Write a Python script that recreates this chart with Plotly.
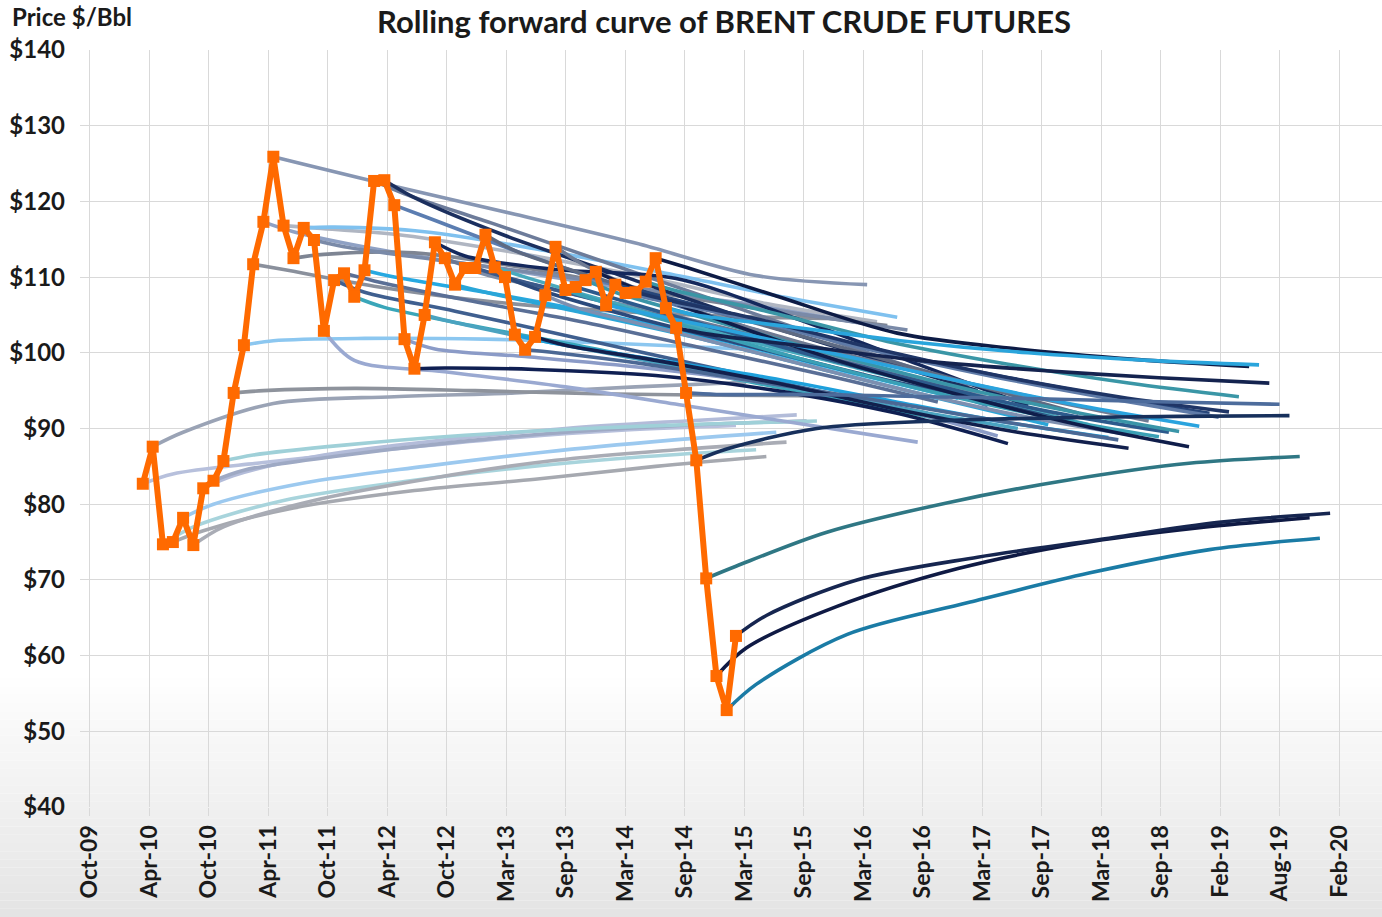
import pandas as pd
import plotly.graph_objects as go

# Month-end Brent front-month settlement, Mar-2010 .. Feb-2015
spot_first = pd.Timestamp("2010-03-31")
spot_price = [82.7, 87.6, 74.7, 75.0, 78.2, 74.6, 82.1, 83.1, 85.7, 94.7,
              101.0, 111.7, 117.3, 125.9, 116.8, 112.5, 116.5, 114.9, 102.9, 109.6,
              110.5, 107.4, 110.9, 122.7, 122.8, 119.5, 101.8, 97.9, 105.0, 114.6,
              112.5, 109.0, 111.2, 111.2, 115.6, 111.3, 110.0, 102.4, 100.4, 102.1,
              107.6, 114.0, 108.3, 108.7, 109.6, 110.7, 106.3, 109.0, 107.9, 108.0,
              109.4, 112.5, 105.9, 103.3, 94.7, 85.8, 70.2, 57.3, 52.8, 62.6]

# Each forward curve is sampled at these contract offsets (months after its trade month)
curve_offsets = [0, 3, 12, 24, 36, 48, 59]

# One forward curve per trade month, same order as spot_price
curve_values = [
    [82.7, 84.0, 85.5, 87.2, 88.7, 89.8, 90.4],
    [87.6, 89.5, 93.3, 94.2, 94.7, 95.5, 96.1],
    [74.7, 77.0, 80.5, 83.0, 84.9, 86.3, 87.2],
    [75.0, 76.5, 79.5, 81.8, 83.3, 85.0, 86.3],
    [78.2, 80.0, 82.8, 85.0, 86.9, 88.4, 89.5],
    [74.6, 77.0, 80.5, 83.5, 85.8, 87.2, 88.2],
    [82.1, 83.8, 86.5, 88.5, 90.0, 91.0, 91.8],
    [83.1, 84.5, 86.3, 88.2, 89.6, 90.5, 91.0],
    [85.7, 86.5, 87.8, 89.1, 90.0, 90.6, 91.0],
    [94.7, 95.0, 95.3, 95.0, 94.6, 94.4, 94.3],
    [101.0, 101.6, 101.9, 101.8, 101.3, 100.6, 100.1],
    [111.7, 111.0, 108.8, 106.7, 105.5, 104.8, 104.5],
    [117.3, 116.0, 113.5, 111.0, 108.5, 106.5, 104.0],
    [125.9, 124.9, 122.0, 118.3, 114.5, 110.2, 109.0],
    [116.8, 116.5, 115.5, 113.0, 110.0, 106.5, 104.1],
    [112.5, 113.0, 113.2, 111.0, 108.0, 105.5, 103.6],
    [116.5, 116.6, 116.0, 113.5, 110.5, 107.3, 104.7],
    [114.9, 114.0, 112.3, 110.2, 107.8, 105.2, 103.0],
    [102.9, 99.0, 97.5, 95.5, 93.0, 90.5, 88.2],
    [109.6, 108.0, 105.5, 102.0, 98.5, 95.0, 92.0],
    [110.5, 109.5, 107.0, 104.0, 100.5, 97.0, 93.5],
    [107.4, 106.0, 103.5, 100.5, 97.0, 94.0, 91.0],
    [110.9, 110.0, 108.0, 105.0, 101.5, 97.5, 94.0],
    [122.7, 121.0, 117.0, 111.5, 106.0, 100.5, 95.5],
    [122.8, 120.5, 115.5, 110.0, 104.5, 99.5, 95.0],
    [119.5, 118.0, 113.5, 108.0, 103.0, 98.0, 93.0],
    [101.8, 100.5, 99.5, 98.0, 96.0, 93.0, 89.0],
    [97.9, 98.0, 97.8, 97.0, 95.0, 92.0, 88.0],
    [105.0, 104.0, 101.5, 98.5, 95.5, 92.5, 90.0],
    [114.6, 112.8, 111.0, 109.8, 104.5, 98.5, 93.0],
    [112.5, 111.0, 108.0, 104.5, 100.5, 96.0, 92.0],
    [109.0, 108.0, 105.5, 102.0, 98.0, 94.0, 90.5],
    [111.2, 110.0, 107.5, 103.5, 99.5, 95.5, 91.5],
    [111.2, 110.0, 107.0, 103.0, 99.0, 95.0, 91.0],
    [115.6, 113.5, 109.5, 105.0, 100.5, 96.0, 92.0],
    [111.3, 110.0, 106.5, 102.0, 98.0, 94.0, 90.5],
    [110.0, 108.5, 105.0, 101.0, 97.0, 93.5, 90.0],
    [102.4, 101.5, 99.5, 97.0, 94.0, 91.0, 88.8],
    [100.4, 100.0, 98.5, 96.0, 93.5, 90.8, 88.5],
    [102.1, 101.0, 99.0, 96.0, 92.5, 89.5, 87.4],
    [107.6, 106.0, 103.0, 99.0, 95.0, 91.5, 89.0],
    [114.0, 111.5, 106.5, 101.5, 97.5, 94.0, 91.0],
    [108.3, 107.0, 103.5, 99.0, 95.0, 91.5, 88.9],
    [108.7, 107.5, 104.0, 99.5, 95.5, 92.0, 89.5],
    [109.6, 108.0, 104.5, 100.0, 95.8, 92.3, 89.6],
    [110.7, 109.0, 104.5, 99.0, 94.5, 90.5, 87.6],
    [106.3, 105.5, 103.0, 99.5, 96.0, 92.8, 90.3],
    [109.0, 108.0, 105.0, 101.0, 97.5, 94.5, 92.0],
    [107.9, 107.0, 104.5, 100.5, 97.0, 94.0, 91.5],
    [108.0, 107.0, 104.5, 100.5, 97.0, 94.2, 92.2],
    [109.4, 108.2, 105.5, 101.5, 98.5, 96.0, 94.2],
    [112.5, 111.3, 107.5, 102.6, 100.5, 99.1, 98.2],
    [105.9, 105.0, 103.5, 101.5, 100.0, 99.0, 98.4],
    [103.3, 102.5, 101.0, 99.0, 97.7, 96.7, 96.0],
    [94.7, 94.5, 94.5, 94.2, 93.9, 93.5, 93.2],
    [85.8, 87.3, 90.0, 91.0, 91.4, 91.6, 91.7],
    [70.2, 71.8, 76.3, 80.2, 83.2, 85.4, 86.3],
    [57.3, 61.0, 66.5, 71.5, 74.8, 76.9, 78.2],
    [52.8, 56.2, 62.8, 67.0, 70.9, 74.0, 75.5],
    [62.6, 65.3, 70.0, 73.0, 75.3, 77.6, 78.8],
]

curve_colors = [
    "#b7c0dc", "#9aa3b5", "#a8d4dc", "#a6a9b0", "#9cc9ef", "#a9acb5", "#b3bcd9", "#9ea9c4",
    "#9fd0d8", "#8e939c", "#8cc7f0", "#8a909c", "#8fa1c4", "#8796b3", "#b0b6c2", "#7e8593",
    "#7fc1ef", "#7a8aa8", "#9aa9d1", "#3f5f8f", "#5a6f96", "#3aa6b9", "#27a9e1", "#6d7c9a",
    "#1b2f5e", "#5b7db1", "#8b9bc7", "#0f1f52", "#4aa3c0", "#14285c", "#6b7894", "#2aa6d8",
    "#7f8da6", "#3b5a8a", "#5e6a82", "#48a9bd", "#2b4a7c", "#1ea0dc", "#4b6894", "#12204d",
    "#7d8fb0", "#6f7b93", "#3aa0b5", "#2c5a8c", "#3a95a8", "#0f1d4a", "#2aa3de", "#27467a",
    "#5f7ba8", "#1f3566", "#3a96a6", "#0d1b45", "#2aa5dc", "#14234f", "#4d6c9c", "#17305c",
    "#2f7784", "#0f1a44", "#1a7ba5", "#162650",
]

tick_labels = ["Oct-09", "Apr-10", "Oct-10", "Apr-11", "Oct-11", "Apr-12", "Oct-12",
               "Mar-13", "Sep-13", "Mar-14", "Sep-14", "Mar-15", "Sep-15", "Mar-16",
               "Sep-16", "Mar-17", "Sep-17", "Mar-18", "Sep-18", "Feb-19", "Aug-19",
               "Feb-20"]
price_ticks = [40, 50, 60, 70, 80, 90, 100, 110, 120, 130, 140]

spot_dates = [spot_first + pd.offsets.MonthEnd(i) for i in range(len(spot_price))]

# Date axis ticks every 180 days
tick0 = pd.Timestamp("2009-10-22")
tick_dates = [tick0 + pd.Timedelta(days=180 * k) for k in range(len(tick_labels))]
x_range = [tick0 - pd.Timedelta(days=30), tick0 + pd.Timedelta(days=3910)]

FONT = "Lato"
TEXT = "#1a1a1a"

fig = go.Figure()

for start, vals, col in zip(spot_dates, curve_values, curve_colors):
    xs = [start + pd.offsets.MonthEnd(o) for o in curve_offsets]
    fig.add_trace(go.Scatter(
        x=xs, y=vals, mode="lines",
        line=dict(color=col, width=3.6, shape="spline", smoothing=0.9),
        hoverinfo="skip",
    ))

fig.add_trace(go.Scatter(
    x=spot_dates, y=spot_price, mode="lines+markers",
    line=dict(color="#ff6a00", width=6),
    marker=dict(symbol="square", size=12, color="#ff6a00"),
    name="Spot",
))

# soft grey fade along the bottom of the page
shapes = []
n_bands = 30
top_px, bot_px = 670, 917
for i in range(n_bands):
    y0 = top_px + (bot_px - top_px) * i / n_bands
    y1 = top_px + (bot_px - top_px) * (i + 1) / n_bands
    g = round(255 - 27 * (i + 0.5) / n_bands)
    shapes.append(dict(
        type="rect", xref="paper", yref="paper", layer="below",
        x0=-80 / 1302, x1=1.0,
        y0=(807 - y1) / 757, y1=(807 - y0) / 757,
        fillcolor=f"rgb({g},{g},{g})", line=dict(width=0),
    ))

fig.update_layout(
    width=1382, height=917,
    margin=dict(l=80, r=0, t=50, b=110),
    paper_bgcolor="white",
    plot_bgcolor="rgba(0,0,0,0)",
    showlegend=False,
    shapes=shapes,
    title=dict(
        text="Rolling forward curve of BRENT CRUDE FUTURES",
        xref="container", yref="container",
        x=724 / 1382, y=1 - 22 / 917, xanchor="center", yanchor="middle",
        font=dict(family=FONT, size=31, color=TEXT, weight="bold"),
    ),
    annotations=[dict(
        text="Price $/Bbl", xref="paper", yref="paper",
        x=(10 - 80) / 1302, y=(807 - 17) / 757,
        xanchor="left", yanchor="middle", showarrow=False,
        font=dict(family=FONT, size=24, color=TEXT, weight="bold"),
    )],
    xaxis=dict(
        type="date", range=x_range,
        tickmode="array", tickvals=tick_dates, ticktext=tick_labels,
        tickangle=-90,
        tickfont=dict(family=FONT, size=23, color=TEXT, weight="bold"),
        showgrid=True, gridcolor="#d9d9d9", gridwidth=1,
        ticks="outside", ticklen=8, tickcolor="#d9d9d9",
        showline=False, zeroline=False,
    ),
    yaxis=dict(
        range=[40, 140],
        tickmode="array", tickvals=price_ticks,
        ticktext=[f"${v}" for v in price_ticks],
        tickfont=dict(family=FONT, size=24, color=TEXT, weight="bold"),
        showgrid=True, gridcolor="#d9d9d9", gridwidth=1,
        ticks="", ticklabelstandoff=14,
        showline=False, zeroline=False,
    ),
)

fig.write_html("out.html")
